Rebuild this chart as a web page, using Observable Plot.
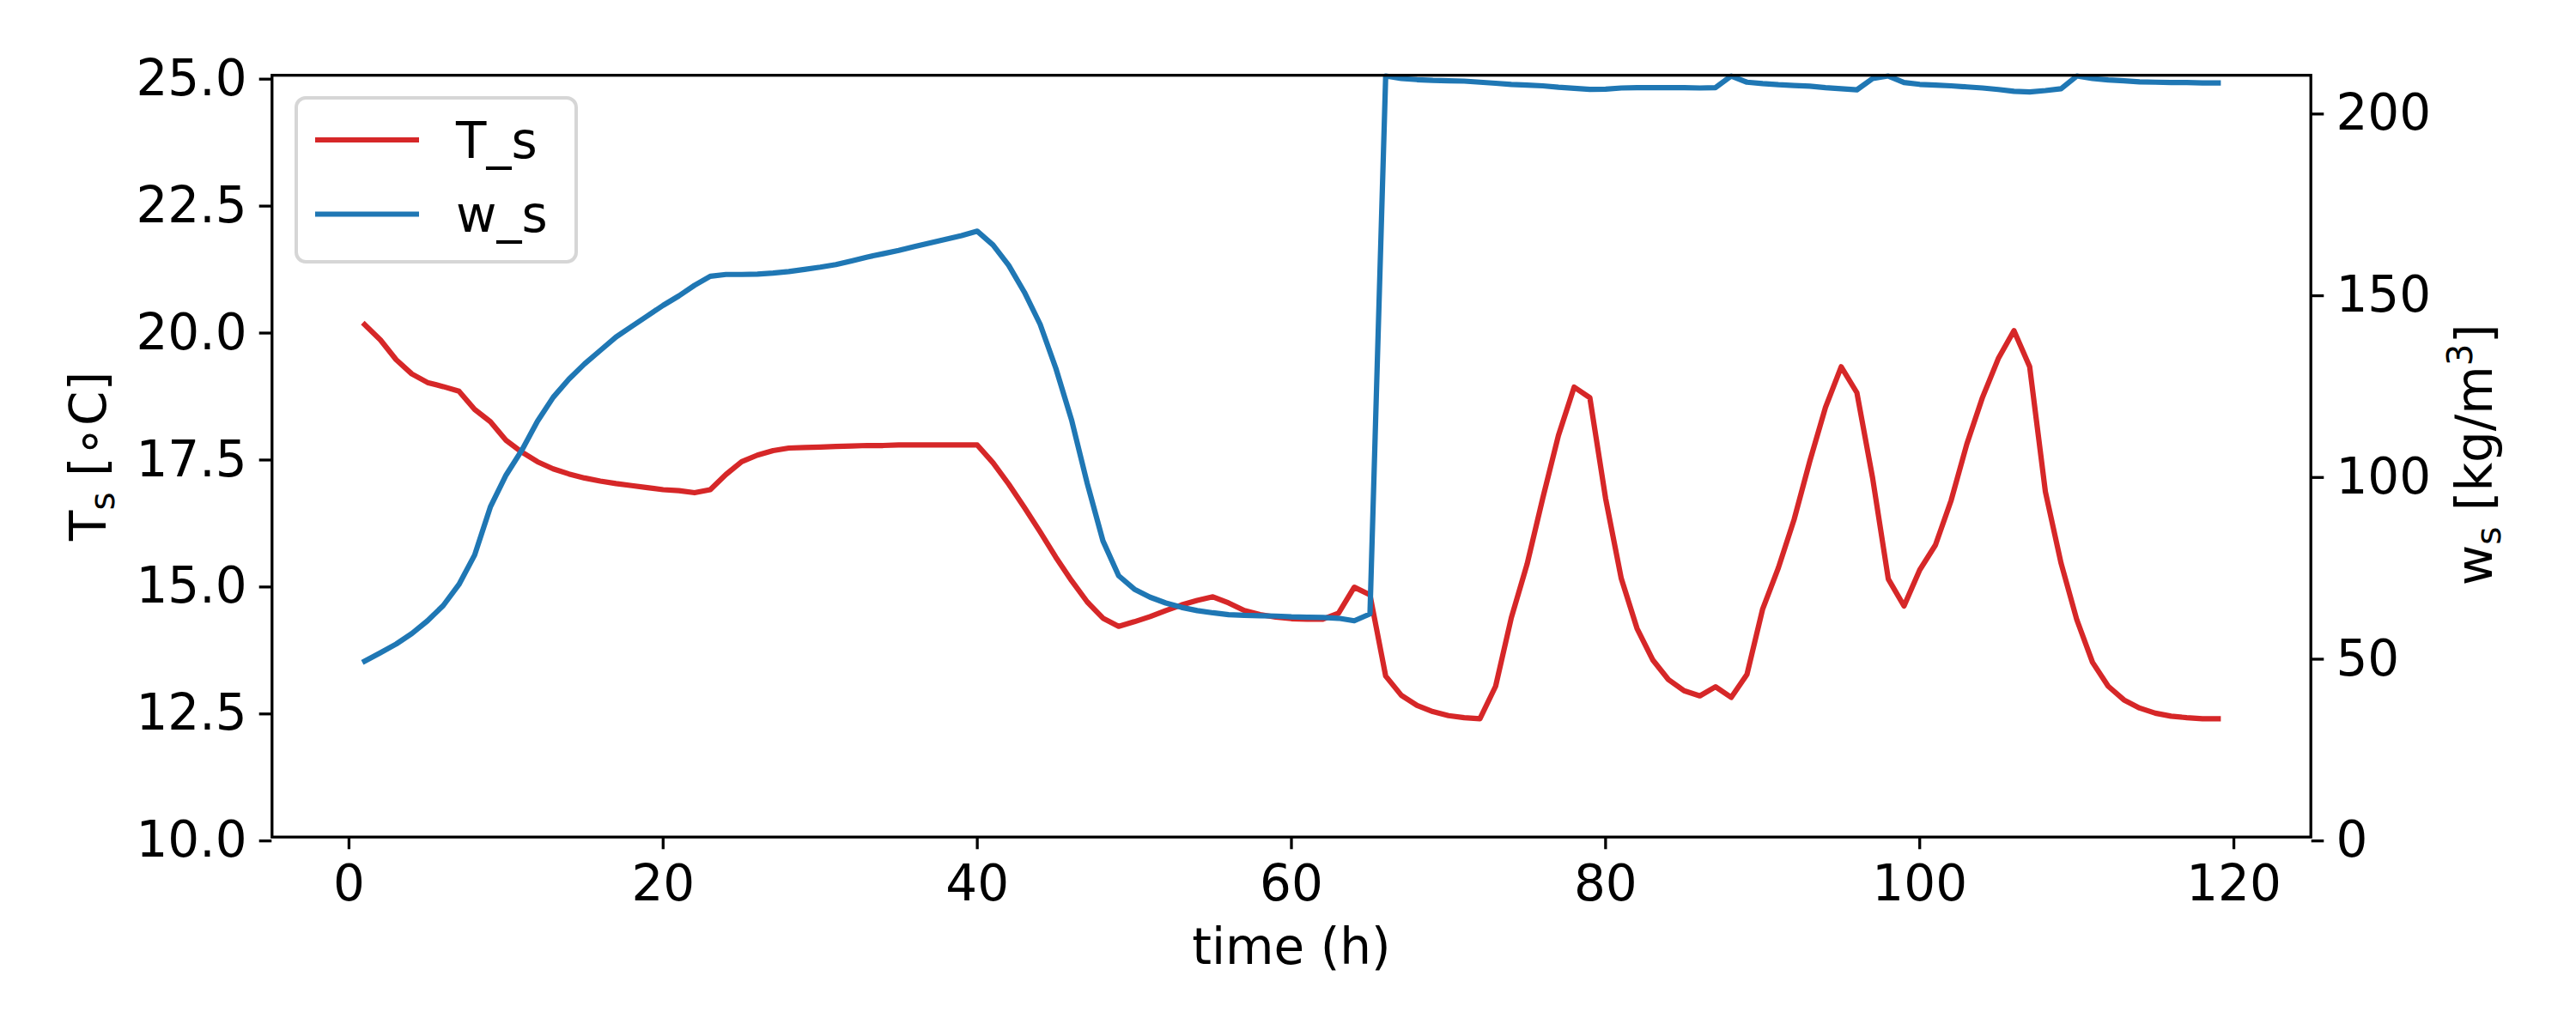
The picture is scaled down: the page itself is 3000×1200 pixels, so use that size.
<!DOCTYPE html>
<html><head><meta charset="utf-8">
<script src="https://cdn.jsdelivr.net/npm/d3@7"></script>
<script src="https://cdn.jsdelivr.net/npm/@observablehq/plot@0.6"></script>
<style>
html,body{margin:0;padding:0;background:#fff;}
#wrap{position:relative;width:3000px;height:1200px;}
</style></head><body><div id="wrap"></div>
<script>
// ---- data ----
const hours = [1,2,3,4,5,6,7,8,9,10,11,12,13,14,15,16,17,18,19,20,21,22,23,24,25,26,27,28,29,30,
  31,32,33,34,35,36,37,38,39,40,41,42,43,44,45,46,47,48,49,50,51,52,53,54,55,56,57,58,59,60,
  61,62,63,64,65,66,67,68,69,70,71,72,73,74,75,76,77,78,79,80,81,82,83,84,85,86,87,88,89,90,
  91,92,93,94,95,96,97,98,99,100,101,102,103,104,105,106,107,108,109,110,111,112,113,114,115,116,117,118,119];
const T_s = [20.09,19.79,19.40,19.12,18.95,18.87,18.78,18.42,18.18,17.81,17.58,17.39,17.25,17.15,17.07,17.01,16.96,16.92,16.88,16.84,
  16.82,16.78,16.84,17.14,17.39,17.52,17.61,17.66,17.67,17.68,17.69,17.70,17.71,17.71,17.72,17.72,17.72,17.72,17.72,17.72,
  17.37,16.95,16.49,16.01,15.51,15.05,14.63,14.31,14.15,14.24,14.34,14.46,14.57,14.66,14.73,14.61,14.46,14.38,14.33,14.30,
  14.29,14.29,14.41,14.92,14.77,13.17,12.79,12.59,12.47,12.39,12.35,12.33,12.97,14.32,15.37,16.67,17.91,18.86,18.65,16.67,
  15.09,14.11,13.49,13.10,12.88,12.78,12.96,12.75,13.20,14.49,15.30,16.25,17.40,18.46,19.26,18.75,17.07,15.08,14.55,15.26,
  15.75,16.63,17.74,18.66,19.42,19.97,19.26,16.80,15.39,14.28,13.44,12.97,12.70,12.54,12.44,12.38,12.35,12.33,12.33];
const w_s = [48.4,50.7,53.1,56.0,59.5,63.7,69.5,77.6,90.8,99.6,106.4,114.4,121.0,126.0,130.2,133.9,137.6,140.5,143.4,146.3,
  148.9,151.8,154.3,154.8,154.8,154.9,155.2,155.6,156.2,156.8,157.5,158.5,159.6,160.5,161.4,162.5,163.5,164.5,165.5,166.7,
  162.9,157.3,149.9,141.1,129.0,114.8,97.3,81.5,71.9,68.2,66.0,64.4,63.2,62.3,61.7,61.2,61.0,60.9,60.8,60.6,
  60.5,60.4,60.2,59.5,61.4,209.4,208.7,208.4,208.2,208.1,208.0,207.7,207.4,207.1,206.9,206.7,206.3,206.0,205.7,205.8,
  206.1,206.2,206.2,206.2,206.2,206.1,206.2,209.4,207.7,207.3,207.0,206.8,206.6,206.2,205.9,205.6,208.7,209.4,207.6,207.1,
  206.9,206.7,206.4,206.1,205.7,205.2,205.0,205.4,205.9,209.4,208.7,208.3,208.1,207.8,207.7,207.6,207.6,207.5,207.5];

const seriesNames = ["T_s", "w_s"];
const seriesColors = ["#d62728", "#1f77b4"];
const xTicks = [0, 20, 40, 60, 80, 100, 120];
const xDomain = [-4.9, 124.9];
const tTicks = [10.0, 12.5, 15.0, 17.5, 20.0, 22.5, 25.0];
const tDomain = [10, 25];
const wTicks = [0, 50, 100, 150, 200];
const wDomain = [0, 209.6];
const xLabel = "time (h)";

// ---- build ----
const rows = hours.map((h, i) => ({h, T: T_s[i], w: w_s[i]}));
const wToT = d3.scaleLinear(wDomain, tDomain);   // twin-axis mapping
const FS = 58, TICK = 14.6, SW = 3.3, LW = 6.2;

const chart = Plot.plot({
  width: 3000, height: 1200,
  marginLeft: 316.3, marginRight: 309.3, marginTop: 87.2, marginBottom: 225.3,
  style: {fontFamily: "DejaVu Sans", fontSize: FS + "px", background: "white", color: "black", overflow: "visible"},
  x: {domain: xDomain, label: null},
  y: {domain: tDomain, label: null},
  marks: [
    Plot.line(rows, {x: "h", y: "T", stroke: seriesColors[0], strokeWidth: LW, strokeLinejoin: "round", strokeLinecap: "square"}),
    Plot.line(rows, {x: "h", y: d => wToT(d.w), stroke: seriesColors[1], strokeWidth: LW, strokeLinejoin: "round", strokeLinecap: "square"}),
    Plot.frame({stroke: "black", strokeWidth: SW}),
    Plot.axisX(xTicks, {anchor: "bottom", tickSize: TICK, tickPadding: 17.7, strokeWidth: SW, fontSize: FS, label: null}),
    Plot.axisY(tTicks, {anchor: "left", tickSize: TICK, tickPadding: 14.6, strokeWidth: SW, fontSize: FS, dy: 4.5,
      tickFormat: d3.format(".1f"), label: null}),
    Plot.axisY(wTicks.map(wToT), {anchor: "right", tickSize: TICK, tickPadding: 14.6, strokeWidth: SW, fontSize: FS, dy: 4.5,
      tickFormat: t => d3.format("d")(Math.round(wToT.invert(t))), label: null}),
    Plot.text([xLabel], {frameAnchor: "bottom", lineAnchor: "bottom", dy: 148, fontSize: FS, text: d => d})
  ]
});
document.getElementById("wrap").appendChild(chart);

const svg = d3.select(chart);
// left axis title: T_s [∘C]
const lt = svg.append("text")
  .attr("transform", "translate(123,531.5) rotate(-90)")
  .attr("text-anchor", "middle").attr("font-family", "DejaVu Sans").attr("font-size", FS).attr("fill", "black");
lt.append("tspan").text("T");
lt.append("tspan").attr("font-size", FS * 0.7).attr("dy", 10).text("s");
lt.append("tspan").attr("dy", -10).text(" [∘C]");

// right axis title: w_s [kg/m^3]
const rt = svg.append("text")
  .attr("transform", "translate(2902,530) rotate(-90)")
  .attr("text-anchor", "middle").attr("font-family", "DejaVu Sans").attr("font-size", FS).attr("fill", "black");
rt.append("tspan").text("w");
rt.append("tspan").attr("font-size", FS * 0.7).attr("dy", 10).text("s");
rt.append("tspan").attr("dy", -10).text(" [kg/m");
rt.append("tspan").attr("font-size", FS * 0.7).attr("dy", -23).text("3");
rt.append("tspan").attr("dy", 23).text("]");

// legend
const lg = svg.append("g");
lg.append("rect").attr("x", 345).attr("y", 114).attr("width", 326).attr("height", 191).attr("rx", 11)
  .attr("fill", "white").attr("fill-opacity", 0.8).attr("stroke", "#cccccc").attr("stroke-opacity", 0.8).attr("stroke-width", 4);
seriesNames.forEach((name, i) => {
  const y = 163 + i * 86.5;
  lg.append("line").attr("x1", 367).attr("x2", 488).attr("y1", y).attr("y2", y)
    .attr("stroke", seriesColors[i]).attr("stroke-width", LW);
  lg.append("text").attr("x", 531).attr("y", y + 20.5).attr("text-anchor", "start")
    .attr("font-family", "DejaVu Sans").attr("font-size", FS).attr("fill", "black").text(name);
});
</script>
</body></html>
